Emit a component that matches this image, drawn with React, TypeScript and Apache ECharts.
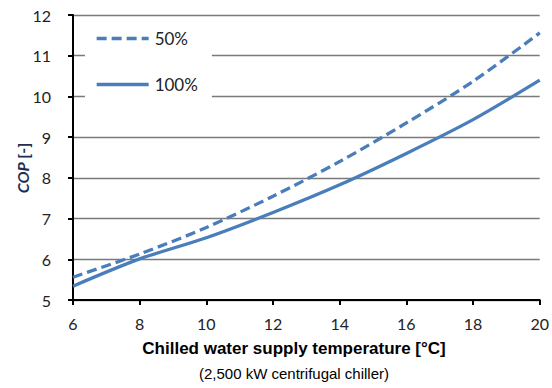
import React, { useEffect, useRef } from "react";
import * as echarts from "echarts";

const temps = [6, 8, 10, 12, 14, 16, 18, 20];
const cop50 = [5.56, 6.13, 6.78, 7.55, 8.4, 9.35, 10.37, 11.56];
const cop100 = [5.34, 6.01, 6.53, 7.15, 7.83, 8.6, 9.43, 10.4];
const seriesNames = ["50%", "100%"];
const xTitle = "Chilled water supply temperature [°C]";
const xSubtitle = "(2,500 kW centrifugal chiller)";

export default function App() {
  const ref = useRef<HTMLDivElement>(null);
  useEffect(() => {
    const chart = echarts.init(ref.current!, null, { renderer: "svg" });
    const blue = "#4A7EBB";
    const tickFont = "Lato, 'Open Sans', sans-serif";
    chart.setOption({
      animation: false,
      backgroundColor: "#ffffff",
      grid: { left: 73, right: 12, top: 15, bottom: 88, containLabel: false },
      legend: {
        data: seriesNames,
        orient: "vertical",
        left: 85,
        top: 20,
        padding: [10, 14, 12, 10],
        itemGap: 29,
        itemWidth: 52,
        itemHeight: 14,
        backgroundColor: "#ffffff",
        itemStyle: { opacity: 0 },
        lineStyle: { width: 3.3 },
        textStyle: { fontFamily: tickFont, fontSize: 17, color: "#222", padding: [0, 0, 0, 1] },
        selectedMode: false,
      },
      xAxis: {
        type: "value",
        min: 6,
        max: 20,
        interval: 2,
        axisLine: { show: true, onZero: false, lineStyle: { color: "#000", width: 2 } },
        axisTick: { show: true, inside: false, length: 5, lineStyle: { color: "#000", width: 2 } },
        axisLabel: { margin: 15, fontFamily: tickFont, fontSize: 16, color: "#222" },
        splitLine: { show: false },
      },
      yAxis: {
        type: "value",
        min: 5,
        max: 12,
        interval: 1,
        axisLine: { show: true, onZero: false, lineStyle: { color: "#000", width: 2 } },
        axisTick: { show: true, inside: false, length: 5, lineStyle: { color: "#000", width: 2 } },
        axisLabel: { margin: 22, fontFamily: tickFont, fontSize: 16, color: "#222" },
        splitLine: { show: true, lineStyle: { color: "#7a7a7a", width: 1.3 } },
      },
      series: [
        {
          name: seriesNames[0],
          type: "line",
          data: temps.map((t, i) => [t, cop50[i]]),
          smooth: 0.3,
          symbol: "none",
          lineStyle: { color: blue, width: 3.3, type: [10, 5] },
          itemStyle: { color: blue },
          z: 3,
        },
        {
          name: seriesNames[1],
          type: "line",
          data: temps.map((t, i) => [t, cop100[i]]),
          smooth: 0.3,
          symbol: "none",
          lineStyle: { color: blue, width: 3.3 },
          itemStyle: { color: blue },
          z: 3,
        },
      ],
      graphic: [
        {
          type: "text",
          x: 294,
          y: 357,
          style: {
            text: xTitle,
            fontFamily: "'Liberation Sans', Arial, sans-serif",
            fontWeight: "bold",
            fontSize: 17,
            fill: "#000",
            align: "center",
            verticalAlign: "bottom",
          },
        },
        {
          type: "text",
          x: 294,
          y: 373,
          style: {
            text: xSubtitle,
            fontFamily: "'Liberation Sans', Arial, sans-serif",
            fontSize: 15,
            fill: "#000",
            align: "center",
            verticalAlign: "middle",
          },
        },
        {
          type: "text",
          x: 22,
          y: 168,
          rotation: Math.PI / 2,
          style: {
            text: "{a|COP} {b|[-]}",
            rich: {
              a: { fontFamily: tickFont, fontWeight: "bold", fontStyle: "italic", fontSize: 16, fill: "#1F2F50" },
              b: { fontFamily: tickFont, fontWeight: "bold", fontSize: 16, fill: "#1F2F50" },
            },
            align: "center",
            verticalAlign: "middle",
          },
        },
      ],
    });
    return () => chart.dispose();
  }, []);
  return <div ref={ref} style={{ width: 552, height: 388, position: "absolute", left: 0, top: 0 }} />;
}
